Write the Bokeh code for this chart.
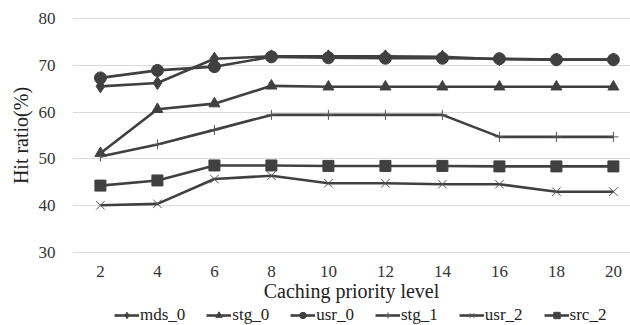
from bokeh.plotting import figure
from bokeh.layouts import column
from bokeh.models import Range1d, FixedTicker, Legend, LegendItem
from bokeh.embed import file_html
from bokeh.resources import INLINE

levels = [2, 4, 6, 8, 10, 12, 14, 16, 18, 20]
mds_0 = [65.5, 66.2, 71.4, 71.9, 71.9, 71.9, 71.8, 71.3, 71.2, 71.2]
stg_0 = [51.2, 60.6, 61.8, 65.6, 65.4, 65.4, 65.4, 65.4, 65.4, 65.4]
usr_0 = [67.3, 68.9, 69.7, 71.8, 71.6, 71.5, 71.5, 71.4, 71.2, 71.2]
stg_1 = [50.5, 53.1, 56.2, 59.4, 59.4, 59.4, 59.4, 54.7, 54.7, 54.7]
usr_2 = [40.1, 40.4, 45.7, 46.4, 44.8, 44.8, 44.6, 44.6, 43.0, 43.0]
src_2 = [44.3, 45.4, 48.6, 48.6, 48.5, 48.5, 48.5, 48.4, 48.4, 48.4]
y_ticks = [30, 40, 50, 60, 70, 80]

FONT = "Liberation Serif"
C = "#404040"

p = figure(width=630, height=304, output_backend="svg", toolbar_location=None,
           x_range=Range1d(1.02, 20.6), y_range=Range1d(29.8, 80.2),
           min_border_left=72, min_border_top=17, min_border_right=0,
           min_border_bottom=50)
p.outline_line_color = None
p.background_fill_color = "white"

p.xgrid.visible = False
p.ygrid.grid_line_color = "#d9d9d9"
p.ygrid.grid_line_width = 1

p.xaxis.ticker = FixedTicker(ticks=levels)
p.yaxis.ticker = FixedTicker(ticks=y_ticks)
for ax in (p.xaxis, p.yaxis):
    ax.axis_line_color = None
    ax.major_tick_line_color = None
    ax.minor_tick_line_color = None
    ax.major_tick_out = 0
    ax.major_tick_in = 0
    ax.minor_tick_out = 0
    ax.minor_tick_in = 0
    ax.major_label_text_font = FONT
    ax.major_label_text_font_size = "17px"
    ax.major_label_text_color = "#333333"
    ax.axis_label_text_font = FONT
    ax.axis_label_text_font_size = "20px"
    ax.axis_label_text_font_style = "normal"
    ax.axis_label_text_color = "#222222"

p.xaxis.axis_label = "Caching priority level"
p.yaxis.axis_label = "Hit ratio(%)"
p.xaxis.major_label_standoff = 12
p.xaxis.axis_label_standoff = 0
p.yaxis.major_label_standoff = 17
p.yaxis.axis_label_standoff = 4

# legend strip below the chart
q = figure(width=630, height=21, output_backend="svg", toolbar_location=None,
           x_range=Range1d(0, 1), y_range=Range1d(0, 1),
           x_axis_location=None, y_axis_location=None,
           min_border_left=0, min_border_right=0, min_border_top=0,
           min_border_bottom=0)
q.outline_line_color = None
q.xgrid.visible = False
q.ygrid.visible = False

series = [
    ("mds_0", mds_0, "diamond", 13),
    ("stg_0", stg_0, "triangle", 11),
    ("usr_0", usr_0, "circle", 12),
    ("stg_1", stg_1, "cross", 10),
    ("usr_2", usr_2, "x", 12),
    ("src_2", src_2, "square", 11),
]

items = []
for name, vals, marker, size in series:
    for fig in (p, q):
        r1 = fig.line(levels, vals, line_color=C, line_width=2.6)
        if marker in ("cross", "x"):
            r2 = fig.scatter(levels, vals, marker=marker, size=size,
                             line_color="#555555", line_width=1)
        else:
            r2 = fig.scatter(levels, vals, marker=marker, size=size,
                             fill_color=C, line_color=C, line_width=1)
    items.append(LegendItem(label=name, renderers=[r1, r2]))

legend = Legend(items=items, orientation="horizontal", location=(42, 0),
                border_line_color=None, background_fill_alpha=0,
                label_text_font=FONT, label_text_font_size="17px",
                label_text_color="#222222",
                glyph_width=25, glyph_height=16, label_standoff=1,
                spacing=21, padding=0, margin=0, label_height=16)
q.add_layout(legend, "center")

layout = column(p, q, spacing=0)
open("out.html", "w").write(file_html(layout, INLINE))
